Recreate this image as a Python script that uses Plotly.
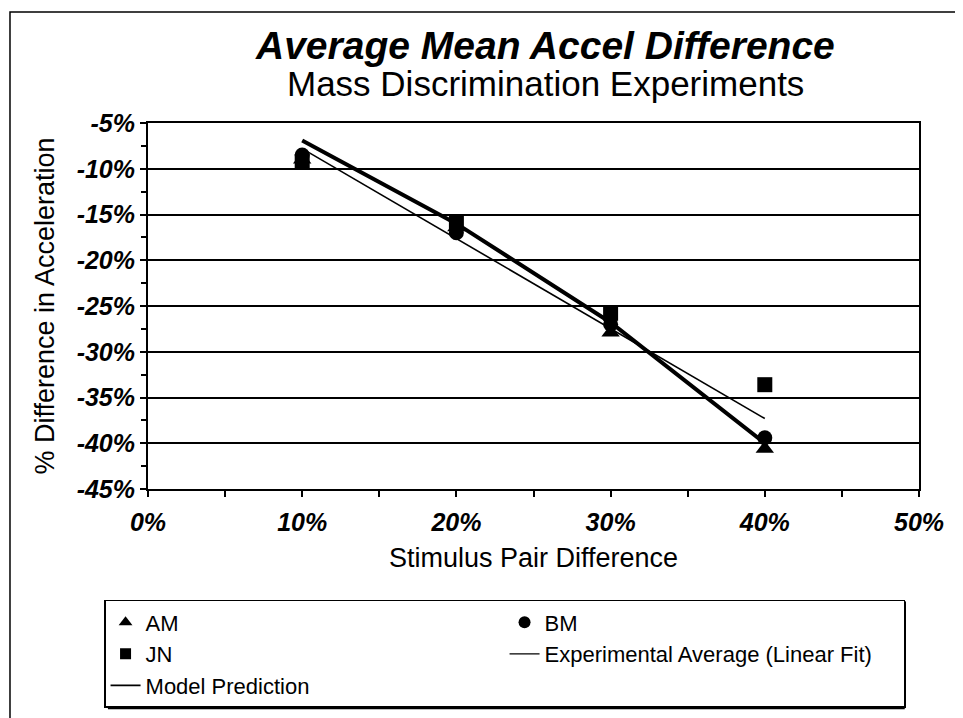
import plotly.graph_objects as go

# Stimulus pair difference (%)
stimulus = [10, 20, 30, 40]

# Subject data (% difference in acceleration)
am = [-9.0, -16.4, -27.9, -40.6]
bm = [-8.5, -17.0, -27.0, -39.4]
jn = [-9.2, -15.8, -25.8, -33.6]

# Model prediction
model = [-6.9, -16.0, -26.8, -40.0]

# Experimental average (linear fit) endpoints
fit_x = [10, 40]
fit_y = [-7.8, -37.3]

# Tick labels
x_tickvals = [0, 10, 20, 30, 40, 50]
x_ticktext = ["0%", "10%", "20%", "30%", "40%", "50%"]
y_tickvals = [-45, -40, -35, -30, -25, -20, -15, -10, -5]
y_ticktext = ["-45%", "-40%", "-35%", "-30%", "-25%", "-20%", "-15%", "-10%", "-5%"]

FONT = "Liberation Sans, Arial, sans-serif"

fig = go.Figure()
# plotted marks (legend entries are drawn by the legend-only traces below)
fig.add_trace(go.Scatter(x=stimulus, y=am, mode="markers", name="AM", showlegend=False,
                         marker=dict(symbol="triangle-up", size=16, color="black")))
fig.add_trace(go.Scatter(x=stimulus, y=bm, mode="markers", name="BM", showlegend=False,
                         marker=dict(symbol="circle", size=15, color="black")))
fig.add_trace(go.Scatter(x=stimulus, y=jn, mode="markers", name="JN", showlegend=False,
                         marker=dict(symbol="square", size=15, color="black")))
fig.add_trace(go.Scatter(x=fit_x, y=fit_y, mode="lines", name="Experimental Average (Linear Fit)",
                         showlegend=False, line=dict(color="black", width=1.6)))
fig.add_trace(go.Scatter(x=stimulus, y=model, mode="lines", name="Model Prediction",
                         showlegend=False, line=dict(color="black", width=4)))

# legend entries
fig.add_trace(go.Scatter(x=[None], y=[None], mode="markers", name="AM",
                         marker=dict(symbol="triangle-up", size=12, color="black")))
fig.add_trace(go.Scatter(x=[None], y=[None], mode="markers", name="BM",
                         marker=dict(symbol="circle", size=12, color="black")))
fig.add_trace(go.Scatter(x=[None], y=[None], mode="markers", name="JN",
                         marker=dict(symbol="square", size=11, color="black")))
fig.add_trace(go.Scatter(x=[None], y=[None], mode="lines", name="Experimental Average (Linear Fit)",
                         line=dict(color="black", width=1.3)))
fig.add_trace(go.Scatter(x=[None], y=[None], mode="lines", name="Model Prediction",
                         line=dict(color="black", width=1.6)))

fig.update_layout(
    width=955, height=710,
    margin=dict(l=140, r=44, t=115, b=229, autoexpand=False),
    paper_bgcolor="white", plot_bgcolor="white",
    font=dict(family=FONT, color="black"),
    showlegend=True,
    legend=dict(
        orientation="h", x=-0.057, y=-0.303, xanchor="left", yanchor="top",
        entrywidth=354, entrywidthmode="pixels",
        bordercolor="black", borderwidth=1.5,
        font=dict(size=22, family=FONT, color="black"),
        tracegroupgap=0,
    ),
)

fig.add_annotation(text="<b><i>Average Mean Accel Difference</i></b>", xref="paper", yref="paper",
                   x=0.515, y=1.213, yanchor="middle", xanchor="center", showarrow=False,
                   font=dict(size=39, family=FONT, color="black"))
fig.add_annotation(text="Mass Discrimination Experiments", xref="paper", yref="paper",
                   x=0.515, y=1.109, yanchor="middle", xanchor="center", showarrow=False,
                   font=dict(size=35, family=FONT, color="black"))

fig.update_xaxes(
    range=[0, 50], tickvals=x_tickvals, ticktext=x_ticktext,
    showgrid=False, zeroline=False,
    showline=True, linecolor="black", linewidth=2, mirror=True,
    ticks="outside", ticklen=6, tickwidth=1.5, tickcolor="black",
    minor=dict(dtick=5, tick0=0, ticks="outside", ticklen=6, tickwidth=1.5, tickcolor="black"),
    ticklabelstandoff=4,
    tickfont=dict(size=25, family=FONT, color="black", weight="bold", style="italic"),
    title=dict(text="Stimulus Pair Difference", font=dict(size=27, family=FONT, color="black"), standoff=13),
)
fig.update_yaxes(
    range=[-45, -5], tickvals=y_tickvals, ticktext=y_ticktext,
    showgrid=True, gridcolor="black", gridwidth=1.8, zeroline=False,
    showline=True, linecolor="black", linewidth=2, mirror=True,
    ticks="outside", ticklen=6, tickwidth=1.5, tickcolor="black",
    minor=dict(dtick=2.5, tick0=-45, ticks="outside", ticklen=5, tickwidth=1.5, tickcolor="black", showgrid=False),
    tickfont=dict(size=25, family=FONT, color="black", weight="bold", style="italic"),
    title=dict(text="% Difference in Acceleration", font=dict(size=27, family=FONT, color="black"), standoff=14),
)

# Outer chart frame
fig.add_shape(type="rect", xref="paper", yref="paper", x0=-0.179, x1=1.2, y0=-0.75, y1=1.303,
              line=dict(color="black", width=1.5), layer="below")
# Legend drop shadow (bottom and right edges)
fig.add_shape(type="line", xref="paper", yref="paper", x0=-0.052, x1=0.9815, y0=-0.5985, y1=-0.5985,
              line=dict(color="black", width=2.5), layer="above")
fig.add_shape(type="line", xref="paper", yref="paper", x0=0.9815, x1=0.9815, y0=-0.307, y1=-0.5985,
              line=dict(color="black", width=2.5), layer="above")

fig.write_html("out.html")
